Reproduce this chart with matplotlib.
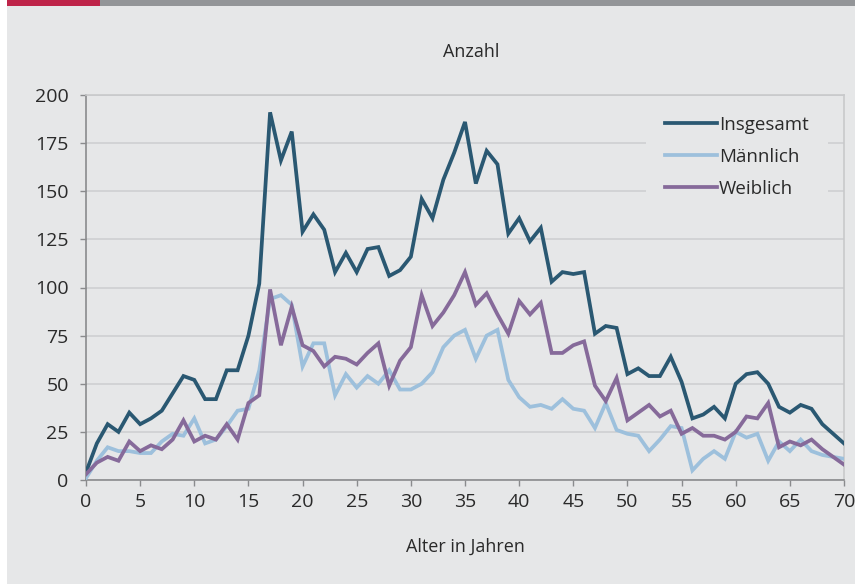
import matplotlib
matplotlib.use("Agg")
import matplotlib.pyplot as plt
from matplotlib.patches import Rectangle

# Data
ages = list(range(0, 71))

insgesamt = [4, 19, 29, 25, 35, 29, 32, 36, 45, 54,
             52, 42, 42, 57, 57, 75, 102, 191, 166, 181,
             129, 138, 130, 108, 118, 108, 120, 121, 106, 109,
             116, 146, 136, 156, 170, 186, 154, 171, 164, 128,
             136, 124, 131, 103, 108, 107, 108, 76, 80, 79,
             55, 58, 54, 54, 64, 51, 32, 34, 38, 32,
             50, 55, 56, 50, 38, 35, 39, 37, 29, 24, 19]

maennlich = [1, 10, 17, 15, 15, 14, 14, 20, 24, 23,
             32, 19, 21, 28, 36, 37, 57, 94, 96, 91,
             59, 71, 71, 44, 55, 48, 54, 50, 57, 47,
             47, 50, 56, 69, 75, 78, 63, 75, 78, 52,
             43, 38, 39, 37, 42, 37, 36, 27, 40, 26,
             24, 23, 15, 21, 28, 27, 5, 11, 15, 11,
             25, 22, 24, 10, 20, 15, 21, 15, 13, 12, 11]

weiblich = [3, 9, 12, 10, 20, 15, 18, 16, 21, 31,
            20, 23, 21, 29, 21, 40, 44, 99, 70, 90,
            70, 67, 59, 64, 63, 60, 66, 71, 49, 62,
            69, 96, 80, 87, 96, 108, 91, 97, 86, 76,
            93, 86, 92, 66, 66, 70, 72, 49, 41, 53,
            31, 35, 39, 33, 36, 24, 27, 23, 23, 21,
            25, 33, 32, 40, 17, 20, 18, 21, 16, 12, 8]

series_names = ["Insgesamt", "Männlich", "Weiblich"]
x_ticks = list(range(0, 71, 5))
y_ticks = list(range(0, 201, 25))

# Colours
bg = "#e6e7e8"
grid_col = "#cfd0d2"
text_col = "#2a2a2a"
colors = ["#2a5872", "#9dc0dc", "#866a9a"]

plt.rcParams["font.family"] = ["Open Sans", "DejaVu Sans"]

fig = plt.figure(figsize=(8.55, 5.84), dpi=100)
fig.patch.set_facecolor("white")

# page background and the header bar
W, H = 855, 584
fig.add_artist(Rectangle((7 / W, 0), 1 - 7 / W, 1, transform=fig.transFigure,
                         facecolor=bg, edgecolor="none", zorder=0))
fig.add_artist(Rectangle((7 / W, 1 - 6 / H), 93 / W, 6 / H, transform=fig.transFigure,
                         facecolor="#be2449", edgecolor="none", zorder=1))
fig.add_artist(Rectangle((100 / W, 1 - 6 / H), 1 - 100 / W, 6 / H, transform=fig.transFigure,
                         facecolor="#939598", edgecolor="none", zorder=1))

ax = fig.add_axes([86 / W, 1 - 480 / H, (844 - 86) / W, (480 - 95) / H])
ax.set_facecolor(bg)

for vals, name, c in zip([insgesamt, maennlich, weiblich], series_names, colors):
    ax.plot(ages, vals, color=c, lw=2.7, label=name, solid_joinstyle="miter", zorder=3)

ax.set_xlim(0, 70)
ax.set_ylim(0, 200)
ax.set_xticks(x_ticks)
ax.set_yticks(y_ticks)
ax.yaxis.grid(True, color=grid_col, lw=1.2)
ax.set_axisbelow(True)

for s in ["top", "right"]:
    ax.spines[s].set_color("#c8c9cb")
    ax.spines[s].set_linewidth(1.2)
ax.spines["left"].set_color("#8a8b8d")
ax.spines["bottom"].set_color("#8a8b8d")
ax.spines["left"].set_linewidth(1.2)
ax.spines["bottom"].set_linewidth(1.2)

ax.tick_params(axis="both", colors="#8a8b8d", labelcolor=text_col, labelsize=14,
               length=4.5, width=1)
ax.tick_params(axis="x", pad=5)
ax.tick_params(axis="y", pad=8)

ax.set_xlabel("Alter in Jahren", fontsize=13, color=text_col, labelpad=19)
fig.text(471 / W, 1 - 52 / H, "Anzahl", ha="center", va="center", fontsize=13, color=text_col)

leg = ax.legend(loc="upper left", bbox_to_anchor=((646 - 86) / 758, (480 - 97) / 385),
                frameon=True, facecolor=bg, edgecolor="none", framealpha=1, fontsize=13.5,
                handlelength=2.8, handletextpad=0.1, labelspacing=0.75,
                borderpad=1.0, borderaxespad=0)
leg.get_frame().set_boxstyle("square", pad=0)
for t in leg.get_texts():
    t.set_color(text_col)

fig.savefig("out.png", dpi=100, facecolor=fig.get_facecolor())
